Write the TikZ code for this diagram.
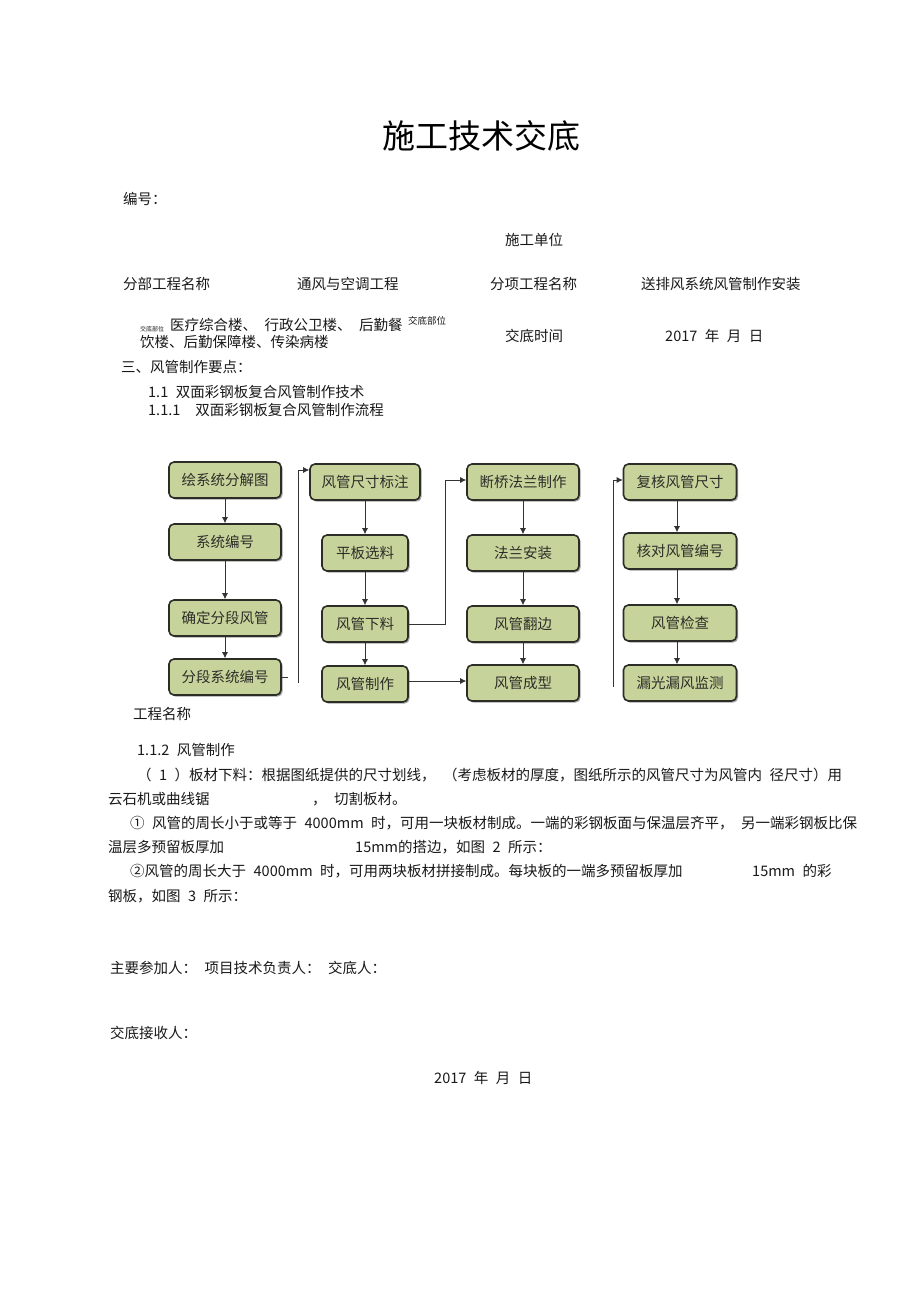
\documentclass[tikz,border=0pt]{standalone}
\usepackage{fontspec}
\setmainfont[WordSpace=2.3]{Noto Sans CJK SC}
\usetikzlibrary{shadows,arrows.meta}
\definecolor{boxgreen}{RGB}{198,212,156}
\definecolor{boxline}{RGB}{45,45,40}
\definecolor{boxtext}{RGB}{45,45,40}
\definecolor{bodytext}{RGB}{25,25,25}
\begin{document}
\begin{tikzpicture}[x=1pt,y=-1pt,
  txt/.style={anchor=west,inner sep=0pt,text=bodytext,font=\fontsize{14.5}{16}\selectfont},
  stepbox/.style={draw=boxline,line width=1.6pt,rounded corners=5pt,fill=boxgreen,
    minimum height=36pt,inner sep=0pt,text=boxtext,font=\fontsize{14.5}{16}\selectfont,
    drop shadow={shadow xshift=1.6pt,shadow yshift=-1.6pt,fill=black!45,opacity=0.8}},
  flow/.style={draw=black!80,line width=0.8pt},
  arr/.style={flow,-{Latex[length=6pt,width=6pt]}}
]
\fill[white] (0,0) rectangle (920,1303);
\useasboundingbox (0,0) rectangle (920,1303);

% title
\node[inner sep=0pt,text=black,font=\fontsize{33}{36}\selectfont] (title) at (481,136) {施工技术交底};

% header lines
\node[txt] (bh) at (123,199) {编号：};
\node[txt] (sgdw) at (505,240) {施工单位};
\node[txt] (fbgc) at (123,284) {分部工程名称};
\node[txt] (tfkt) at (297,284) {通风与空调工程};
\node[txt] (fxgc) at (490,284) {分项工程名称};
\node[txt] (spf) at (641,284) {送排风系统风管制作安装};
\node[txt,font=\fontsize{6}{7}\selectfont] (jdbw1) at (140,329) {交底部位};
\node[txt] (yl) at (170,325) {医疗综合楼、 行政公卫楼、 后勤餐};
\node[txt,font=\fontsize{9.5}{11}\selectfont] (jdbw2) at (408,321) {交底部位};
\node[txt] (yl2) at (140,342) {饮楼、后勤保障楼、传染病楼};
\node[txt] (jdsj) at (505,336) {交底时间};
\node[txt] (date1) at (665,336) {2017 年 月 日};
\node[txt] (s3) at (121,367) {三、风管制作要点：};
\node[txt] (s11) at (148,392) {1.1 双面彩钢板复合风管制作技术};
\node[txt] (s111) at (148,410) {1.1.1\ \ 双面彩钢板复合风管制作流程};

% flowchart boxes
\node[stepbox,minimum width=112pt] (b11) at (225,480) {绘系统分解图};
\node[stepbox,minimum width=112pt] (b12) at (225,542) {系统编号};
\node[stepbox,minimum width=112pt] (b13) at (225,618) {确定分段风管};
\node[stepbox,minimum width=112pt] (b14) at (225,677) {分段系统编号};

\node[stepbox,minimum width=110pt] (b21) at (365,482) {风管尺寸标注};
\node[stepbox,minimum width=86pt] (b22) at (365,553) {平板选料};
\node[stepbox,minimum width=86pt] (b23) at (365,624) {风管下料};
\node[stepbox,minimum width=86pt] (b24) at (365,684) {风管制作};

\node[stepbox,minimum width=112pt] (b31) at (523,482) {断桥法兰制作};
\node[stepbox,minimum width=112pt] (b32) at (523,553) {法兰安装};
\node[stepbox,minimum width=112pt] (b33) at (523,624) {风管翻边};
\node[stepbox,minimum width=112pt] (b34) at (523,683) {风管成型};

\node[stepbox,minimum width=113pt] (b41) at (680,482) {复核风管尺寸};
\node[stepbox,minimum width=113pt] (b42) at (680,551) {核对风管编号};
\node[stepbox,minimum width=113pt] (b43) at (680,623) {风管检查};
\node[stepbox,minimum width=113pt] (b44) at (680,683) {漏光漏风监测};

% connectors column 1
\draw[arr] (b11.south) -- (b12.north);
\draw[arr] (b12.south) -- (b13.north);
\draw[arr] (b13.south) -- (b14.north);
\coordinate (c1stub) at (288,677);
\draw[flow] (b14.east) -- (c1stub);
\coordinate (c1bot) at (298,683);
\coordinate (c1top) at (298,470);
\draw[arr] (c1bot) -- (c1top) -- (b21.west |- c1top);

% column 2
\draw[arr] (b21.south) -- (b22.north);
\draw[arr] (b22.south) -- (b23.north);
\draw[arr] (b23.south) -- (b24.north);
\coordinate (c2a) at (445,624);
\coordinate (c2b) at (445,480);
\draw[arr] (b23.east) -- (c2a) -- (c2b) -- (b31.west |- c2b);
\draw[arr] (b24.east |- 0,681) -- (b34.west |- 0,681);

% column 3
\draw[arr] (b31.south) -- (b32.north);
\draw[arr] (b32.south) -- (b33.north);
\draw[arr] (b33.south) -- (b34.north);

% column 4
\coordinate (c4bot) at (613,687);
\coordinate (c4top) at (613,480);
\draw[arr] (c4bot) -- (c4top) -- (b41.west |- c4top);
\draw[arr] ([xshift=-3pt]b41.south) -- ([xshift=-3pt]b42.north);
\draw[arr] ([xshift=-3pt]b42.south) -- ([xshift=-3pt]b43.north);
\draw[arr] ([xshift=-3pt]b43.south) -- ([xshift=-3pt]b44.north);

% body text
\node[txt] (gcmc) at (133,714) {工程名称};
\node[txt] (s112) at (137,750) {1.1.2 风管制作};
\node[txt] (p1) at (137,775) {（ 1 ）板材下料：根据图纸提供的尺寸划线， （考虑板材的厚度，图纸所示的风管尺寸为风管内 径尺寸）用};
\node[txt] (p1b) at (108,799) {云石机或曲线锯};
\node[txt] (p1c) at (312,799) {， 切割板材。};
\node[txt] (p2) at (130,823) {① 风管的周长小于或等于 4000mm 时，可用一块板材制成。一端的彩钢板面与保温层齐平， 另一端彩钢板比保};
\node[txt] (p2b) at (108,847) {温层多预留板厚加};
\node[txt] (p2c) at (355,847) {15mm的搭边，如图 2 所示：};
\node[txt] (p3) at (130,871) {②风管的周长大于 4000mm 时，可用两块板材拼接制成。每块板的一端多预留板厚加};
\node[txt] (p3b) at (752,871) {15mm 的彩};
\node[txt] (p3c) at (108,896) {钢板，如图 3 所示：};

\node[txt] (cj) at (110,968) {主要参加人： 项目技术负责人： 交底人：};
\node[txt] (jsr) at (110,1033) {交底接收人：};
\node[txt] (date2) at (434,1078) {2017 年 月 日};
\end{tikzpicture}
\end{document}
